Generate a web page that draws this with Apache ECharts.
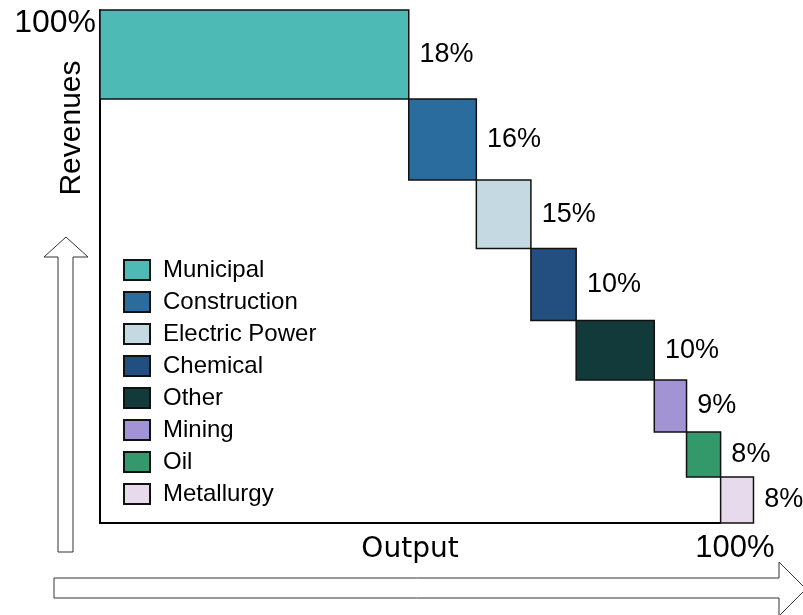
<!DOCTYPE html>
<html>
<head>
<meta charset="utf-8">
<script src="https://cdn.jsdelivr.net/npm/echarts@6/dist/echarts.min.js"></script>
<style>
html,body{margin:0;padding:0;background:#fff;}
#chart{width:803px;height:615px;}
</style>
</head>
<body>
<div id="chart"></div>
<script>
// ---- data ----
var categories = ['Municipal', 'Construction', 'Electric Power', 'Chemical', 'Other', 'Mining', 'Oil', 'Metallurgy'];
// share of output (block widths, % of the output axis)
var outputWidths = [49.8, 10.9, 8.8, 7.3, 12.6, 5.2, 5.5, 5.3];
// share of revenues (block heights, % of the revenue axis)
var revenueHeights = [17.35, 15.79, 13.35, 14.04, 11.60, 10.14, 8.77, 8.97];
// labels shown next to each block
var shareLabels = ['18%', '16%', '15%', '10%', '10%', '9%', '8%', '8%'];
var colors = ['#4dbab5', '#2b6c9e', '#c5d9e2', '#234e80', '#133a3a', '#a293d4', '#34996a', '#e6daec'];
var axisTickLabels = ['100%', '100%'];

// ---- build blocks: cascade from top-left to bottom-right ----
var series = [];
var xStart = 0, yTop = 100;
for (var i = 0; i < categories.length; i++) {
  var x0 = xStart, x1 = xStart + outputWidths[i];
  var y1 = yTop, y0 = yTop - revenueHeights[i];
  series.push({
    name: categories[i],
    type: 'custom',
    itemStyle: { color: colors[i], borderColor: '#111', borderWidth: 1.8 },
    encode: { x: [0, 1], y: [2, 3] },
    data: [[x0, x1, y0, y1, shareLabels[i]]],
    clip: false,
    renderItem: (function (col) {
      return function (params, api) {
        var p0 = api.coord([api.value(0), api.value(3)]);
        var p1 = api.coord([api.value(1), api.value(2)]);
        return {
          type: 'rect',
          shape: { x: p0[0], y: p0[1], width: p1[0] - p0[0], height: p1[1] - p0[1] },
          style: { fill: col, stroke: '#111', lineWidth: 1.5 },
          textContent: {
            style: {
              text: api.value(4),
              fontSize: 27,
              fontFamily: 'Liberation Sans, Arial, sans-serif',
              fill: '#000'
            }
          },
          textConfig: { position: 'right', distance: 10 }
        };
      };
    })(colors[i])
  });
  xStart = x1;
  yTop = y0;
}

var chart = echarts.init(document.getElementById('chart'));
chart.setOption({
  animation: false,
  backgroundColor: '#fff',
  grid: { left: 100, top: 10, width: 620, height: 513, containLabel: false },
  xAxis: {
    type: 'value', min: 0, max: 100, interval: 100,
    name: 'Output', nameLocation: 'middle', nameGap: 12, nameMoveOverlap: false,
    nameTextStyle: { fontSize: 28, fontFamily: 'DejaVu Sans', color: '#000', lineHeight: 30, verticalAlign: 'top' },
    axisLine: { show: true, lineStyle: { color: '#000', width: 2 } },
    axisTick: { show: false },
    splitLine: { show: false },
    axisLabel: {
      formatter: function (v) { return v === 100 ? axisTickLabels[1] : ''; },
      fontSize: 31, fontFamily: 'Liberation Sans, Arial, sans-serif', color: '#000',
      margin: 10, lineHeight: 30, padding: [0, 0, 0, 30]
    }
  },
  yAxis: {
    type: 'value', min: 0, max: 100, interval: 100,
    axisLine: { show: true, lineStyle: { color: '#000', width: 2 } },
    axisTick: { show: false },
    splitLine: { show: false },
    axisLabel: {
      formatter: function (v) { return v === 100 ? axisTickLabels[0] : ''; },
      fontSize: 32, fontFamily: 'Liberation Sans, Arial, sans-serif', color: '#000',
      margin: 4, verticalAlign: 'top', lineHeight: 26
    }
  },
  legend: {
    orient: 'vertical', left: 118, top: 250,
    icon: 'rect', itemWidth: 26, itemHeight: 20, itemGap: 2,
    data: categories,
    textStyle: { fontSize: 24, lineHeight: 24, fontFamily: 'Liberation Sans, Arial, sans-serif', color: '#000', padding: [0, 0, 6, 8] }
  },
  graphic: [
    {
      type: 'text', x: 72, y: 128, rotation: Math.PI / 2,
      style: { text: 'Revenues', fontSize: 30, fontFamily: 'Liberation Sans, Arial, sans-serif', fill: '#000', align: 'center', verticalAlign: 'middle' }
    },
    {
      type: 'polygon',
      shape: { points: [[66, 237], [88, 257], [73, 257], [73, 552], [58, 552], [58, 257], [44, 257]] },
      style: { fill: '#fff', stroke: '#333', lineWidth: 1 }
    },
    {
      type: 'polygon',
      shape: { points: [[54, 578], [779, 578], [779, 562], [806, 589], [779, 616], [779, 598], [54, 598]] },
      style: { fill: '#fff', stroke: '#333', lineWidth: 1 }
    }
  ],
  series: series
});
</script>
</body>
</html>
